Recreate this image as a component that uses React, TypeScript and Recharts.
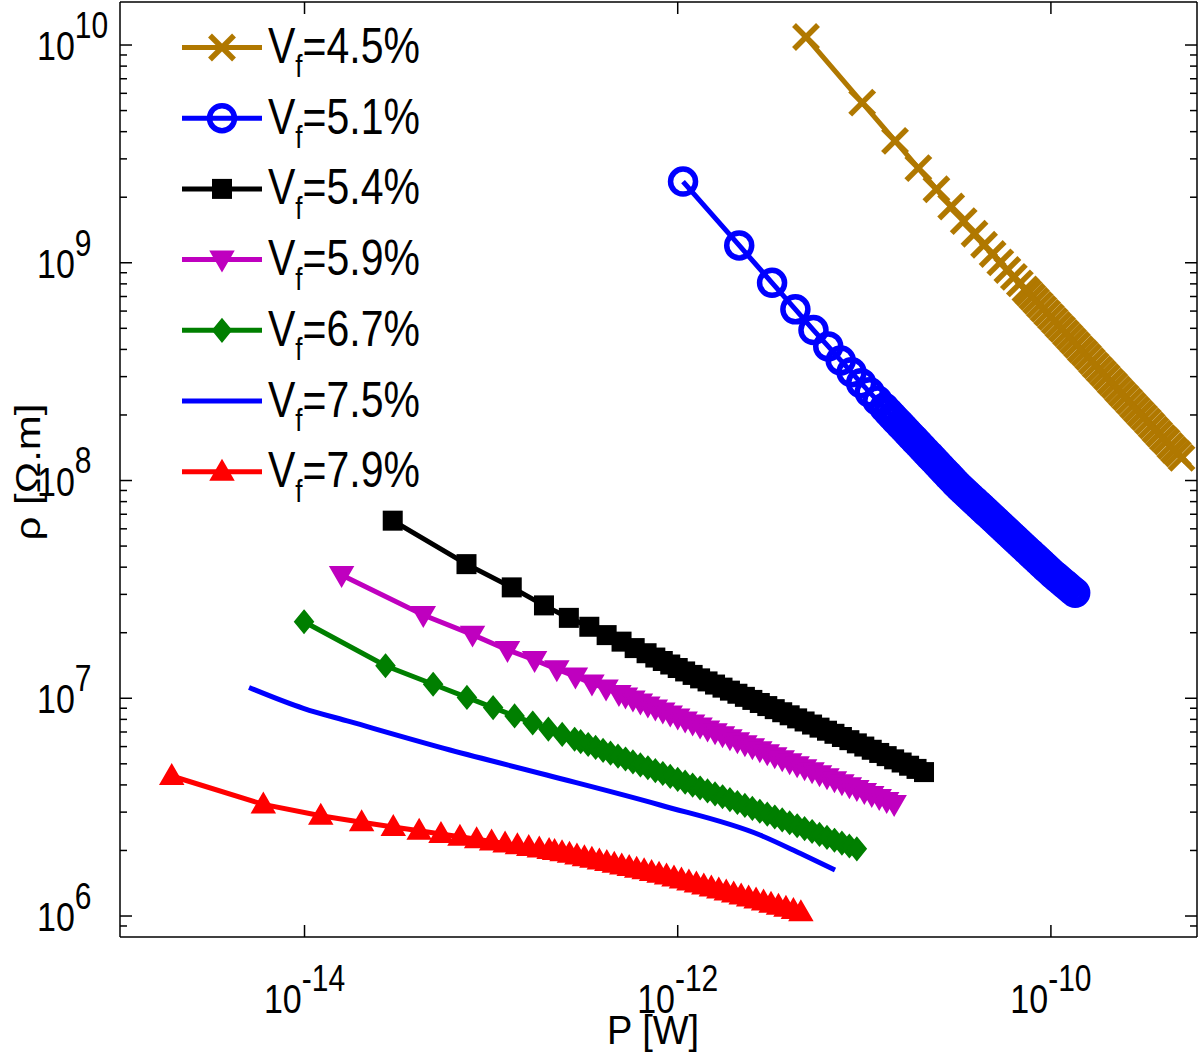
import React from 'react';
import { LineChart, Line, XAxis, YAxis, Legend, ReferenceLine } from 'recharts';

// power P [W] and resistivity rho [Ohm.m]
const p45 = [4.87e-12, 9.74e-12, 1.461e-11, 1.948e-11, 2.435e-11, 2.922e-11, 3.409e-11, 3.896e-11, 4.383e-11, 4.87e-11, 5.357e-11, 5.844e-11, 6.331e-11, 6.818e-11, 7.305e-11,
  7.586e-11, 7.943e-11, 8.318e-11, 8.71e-11, 9.12e-11, 9.55e-11, 1.0e-10, 1.047e-10, 1.096e-10, 1.148e-10, 1.202e-10, 1.259e-10, 1.318e-10, 1.38e-10, 1.445e-10, 1.514e-10, 1.585e-10, 1.66e-10, 1.738e-10, 1.82e-10, 1.905e-10, 1.995e-10, 2.089e-10, 2.188e-10, 2.291e-10, 2.399e-10, 2.512e-10, 2.63e-10, 2.754e-10, 2.884e-10, 3.02e-10, 3.162e-10, 3.311e-10, 3.467e-10, 3.631e-10, 3.802e-10, 3.981e-10, 4.169e-10, 4.365e-10, 4.571e-10, 4.786e-10, 5.012e-10];
const rho45 = [1.088e10, 5.44e9, 3.627e9, 2.72e9, 2.176e9, 1.813e9, 1.554e9, 1.36e9, 1.209e9, 1.097e9, 1.004e9, 9.27e8, 8.61e8, 8.04e8, 7.54e8,
  7.28e8, 6.98e8, 6.69e8, 6.41e8, 6.14e8, 5.89e8, 5.64e8, 5.41e8, 5.18e8, 4.97e8, 4.76e8, 4.56e8, 4.37e8, 4.19e8, 4.01e8, 3.85e8, 3.69e8, 3.53e8, 3.38e8, 3.24e8, 3.11e8, 2.98e8, 2.85e8, 2.74e8, 2.62e8, 2.51e8, 2.41e8, 2.31e8, 2.21e8, 2.12e8, 2.03e8, 1.95e8, 1.87e8, 1.79e8, 1.71e8, 1.64e8, 1.57e8, 1.51e8, 1.44e8, 1.38e8, 1.33e8, 1.27e8];

const p51 = [1.068e-12, 2.136e-12, 3.204e-12, 4.272e-12, 5.34e-12, 6.408e-12, 7.476e-12, 8.544e-12, 9.612e-12, 1.068e-11, 1.175e-11, 1.282e-11,
  1.349e-11, 1.413e-11, 1.479e-11, 1.549e-11, 1.622e-11, 1.698e-11, 1.778e-11, 1.862e-11, 1.95e-11, 2.042e-11, 2.138e-11, 2.239e-11, 2.344e-11, 2.455e-11, 2.57e-11, 2.692e-11, 2.818e-11, 2.951e-11, 3.09e-11, 3.236e-11, 3.388e-11, 3.548e-11, 3.715e-11, 3.89e-11, 4.074e-11, 4.266e-11, 4.467e-11, 4.677e-11, 4.898e-11, 5.129e-11, 5.37e-11, 5.623e-11, 5.888e-11, 6.166e-11, 6.457e-11, 6.761e-11, 7.079e-11, 7.413e-11, 7.762e-11, 8.128e-11, 8.511e-11, 8.913e-11, 9.333e-11, 9.772e-11, 1.023e-10, 1.072e-10, 1.122e-10, 1.175e-10, 1.23e-10, 1.288e-10, 1.349e-10];
const rho51 = [2.361e9, 1.201e9, 8.09e8, 6.11e8, 4.91e8, 4.13e8, 3.56e8, 3.14e8, 2.8e8, 2.54e8, 2.33e8, 2.16e8,
  2.058e8, 1.973e8, 1.893e8, 1.816e8, 1.742e8, 1.671e8, 1.602e8, 1.537e8, 1.474e8, 1.414e8, 1.356e8, 1.301e8, 1.248e8, 1.197e8, 1.148e8, 1.101e8, 1.056e8, 1.013e8, 9.717e7, 9.342e7, 9.004e7, 8.678e7, 8.364e7, 8.061e7, 7.769e7, 7.489e7, 7.218e7, 6.957e7, 6.706e7, 6.463e7, 6.229e7, 6.004e7, 5.786e7, 5.577e7, 5.375e7, 5.181e7, 4.994e7, 4.813e7, 4.639e7, 4.471e7, 4.31e7, 4.154e7, 4.003e7, 3.858e7, 3.722e7, 3.601e7, 3.483e7, 3.37e7, 3.26e7, 3.153e7, 3.051e7];

const p54 = [2.97e-14, 7.38e-14, 1.29e-13, 1.92e-13, 2.61e-13, 3.36e-13, 4.16e-13, 5.0e-13, 5.88e-13, 6.81e-13,
  7.586e-13, 8.318e-13, 9.12e-13, 1.0e-12, 1.096e-12, 1.202e-12, 1.318e-12, 1.445e-12, 1.585e-12, 1.738e-12, 1.905e-12, 2.089e-12, 2.291e-12, 2.512e-12, 2.754e-12, 3.02e-12, 3.311e-12, 3.631e-12, 3.981e-12, 4.365e-12, 4.786e-12, 5.248e-12, 5.754e-12, 6.31e-12, 6.918e-12, 7.586e-12, 8.318e-12, 9.12e-12, 1.0e-11, 1.096e-11, 1.202e-11, 1.318e-11, 1.445e-11, 1.585e-11, 1.738e-11, 1.905e-11, 2.089e-11];
const rho54 = [6.54e7, 4.13e7, 3.23e7, 2.67e7, 2.34e7, 2.13e7, 1.95e7, 1.82e7, 1.7e7, 1.61e7,
  1.538e7, 1.483e7, 1.429e7, 1.377e7, 1.328e7, 1.28e7, 1.234e7, 1.195e7, 1.156e7, 1.119e7, 1.084e7, 1.049e7, 1.015e7, 9.827e6, 9.513e6, 9.207e6, 8.913e6, 8.626e6, 8.351e6, 8.084e6, 7.824e6, 7.574e6, 7.33e6, 7.096e6, 6.868e6, 6.639e6, 6.42e6, 6.206e6, 6.001e6, 5.801e6, 5.609e6, 5.423e6, 5.242e6, 5.069e6, 4.9e6, 4.738e6, 4.581e6];

const p59 = [1.58e-14, 4.33e-14, 7.95e-14, 1.224e-13, 1.71e-13, 2.25e-13, 2.83e-13, 3.47e-13, 4.13e-13, 4.84e-13,
  5.248e-13, 5.754e-13, 6.31e-13, 6.918e-13, 7.586e-13, 8.318e-13, 9.12e-13, 1.0e-12, 1.096e-12, 1.202e-12, 1.318e-12, 1.445e-12, 1.585e-12, 1.738e-12, 1.905e-12, 2.089e-12, 2.291e-12, 2.512e-12, 2.754e-12, 3.02e-12, 3.311e-12, 3.631e-12, 3.981e-12, 4.365e-12, 4.786e-12, 5.248e-12, 5.754e-12, 6.31e-12, 6.918e-12, 7.586e-12, 8.318e-12, 9.12e-12, 1.0e-11, 1.096e-11, 1.202e-11, 1.318e-11, 1.445e-11];
const rho59 = [3.68e7, 2.41e7, 1.96e7, 1.667e7, 1.5e7, 1.36e7, 1.26e7, 1.17e7, 1.11e7, 1.047e7,
  1.018e7, 9.87e6, 9.563e6, 9.265e6, 8.977e6, 8.698e6, 8.428e6, 8.166e6, 7.91e6, 7.665e6, 7.427e6, 7.196e6, 6.973e6, 6.755e6, 6.546e6, 6.342e6, 6.145e6, 5.954e6, 5.767e6, 5.588e6, 5.415e6, 5.247e6, 5.085e6, 4.925e6, 4.772e6, 4.624e6, 4.481e6, 4.341e6, 4.206e6, 4.075e6, 3.948e6, 3.826e6, 3.707e6, 3.591e6, 3.479e6, 3.371e6, 3.267e6];

const p67 = [9.94e-15, 2.716e-14, 4.888e-14, 7.42e-14, 1.025e-13, 1.336e-13, 1.67e-13, 2.027e-13, 2.404e-13, 2.801e-13,
  3.02e-13, 3.311e-13, 3.631e-13, 3.981e-13, 4.365e-13, 4.786e-13, 5.248e-13, 5.754e-13, 6.31e-13, 6.918e-13, 7.586e-13, 8.318e-13, 9.12e-13, 1.0e-12, 1.096e-12, 1.202e-12, 1.318e-12, 1.445e-12, 1.585e-12, 1.738e-12, 1.905e-12, 2.089e-12, 2.291e-12, 2.512e-12, 2.754e-12, 3.02e-12, 3.311e-12, 3.631e-12, 3.981e-12, 4.365e-12, 4.786e-12, 5.248e-12, 5.754e-12, 6.31e-12, 6.918e-12, 7.586e-12, 8.318e-12, 9.12e-12];
const rho67 = [2.247e7, 1.411e7, 1.16e7, 1.009e7, 9.062e6, 8.297e6, 7.702e6, 7.221e6, 6.824e6, 6.484e6,
  6.325e6, 6.134e6, 5.949e6, 5.767e6, 5.594e6, 5.425e6, 5.261e6, 5.103e6, 4.948e6, 4.798e6, 4.654e6, 4.514e6, 4.377e6, 4.245e6, 4.117e6, 3.992e6, 3.872e6, 3.755e6, 3.641e6, 3.531e6, 3.424e6, 3.321e6, 3.221e6, 3.123e6, 3.029e6, 2.938e6, 2.849e6, 2.763e6, 2.68e6, 2.598e6, 2.52e6, 2.444e6, 2.37e6, 2.298e6, 2.229e6, 2.162e6, 2.096e6, 2.034e6];

const p75 = [5.042e-15, 9.854e-15, 1.753e-14, 6.022e-14, 1.986e-13, 8.039e-13, 2.761e-12, 4.523e-12, 6.966e-12];
const rho75 = [1.121e7, 8.992e6, 7.804e6, 5.785e6, 4.442e6, 3.235e6, 2.355e6, 1.941e6, 1.627e6];

const p79 = [1.942e-15, 6.015e-15, 1.222e-14, 2.023e-14, 2.99e-14, 4.115e-14, 5.386e-14, 6.805e-14, 8.362e-14, 1.006e-13, 1.188e-13, 1.383e-13, 1.591e-13, 1.812e-13, 2.045e-13,
  2.188e-13, 2.399e-13, 2.63e-13, 2.884e-13, 3.162e-13, 3.467e-13, 3.802e-13, 4.169e-13, 4.571e-13, 5.012e-13, 5.495e-13, 6.026e-13, 6.607e-13, 7.244e-13, 7.943e-13, 8.71e-13, 9.55e-13, 1.047e-12, 1.148e-12, 1.259e-12, 1.38e-12, 1.514e-12, 1.66e-12, 1.82e-12, 1.995e-12, 2.188e-12, 2.399e-12, 2.63e-12, 2.884e-12, 3.162e-12, 3.467e-12, 3.802e-12, 4.169e-12, 4.571e-12];
const rho79 = [4.395e6, 3.256e6, 2.887e6, 2.694e6, 2.564e6, 2.462e6, 2.379e6, 2.31e6, 2.25e6, 2.198e6, 2.152e6, 2.111e6, 2.073e6, 2.04e6, 2.009e6,
  1.991e6, 1.964e6, 1.93e6, 1.897e6, 1.864e6, 1.832e6, 1.8e6, 1.769e6, 1.738e6, 1.708e6, 1.679e6, 1.65e6, 1.621e6, 1.593e6, 1.565e6, 1.534e6, 1.502e6, 1.47e6, 1.439e6, 1.41e6, 1.38e6, 1.352e6, 1.323e6, 1.296e6, 1.269e6, 1.243e6, 1.217e6, 1.191e6, 1.166e6, 1.14e6, 1.114e6, 1.09e6, 1.066e6, 1.041e6];

const legendLabels = ['=4.5%', '=5.1%', '=5.4%', '=5.9%', '=6.7%', '=7.5%', '=7.9%'];

const xTicks = [1e-14, 1e-12, 1e-10];
const xTickExp = ['-14', '-12', '-10'];
const yMajor = [1e6, 1e7, 1e8, 1e9, 1e10];
const yMajorExp = ['6', '7', '8', '9', '10'];
const yMinor = [9e5, 2e6, 3e6, 4e6, 5e6, 6e6, 7e6, 8e6, 9e6, 2e7, 3e7, 4e7, 5e7, 6e7, 7e7, 8e7, 9e7,
  2e8, 3e8, 4e8, 5e8, 6e8, 7e8, 8e8, 9e8, 2e9, 3e9, 4e9, 5e9, 6e9, 7e9, 8e9, 9e9];

const W = 1200;
const H = 1054;
const PL = 120;
const PR = 1197;
const PT = 2;
const PB = 937;
const X_DOMAIN = [1.026e-15, 6.066e-10];
const Y_DOMAIN = [8.01e5, 1.576e10];
const FONT = '"Liberation Sans", Arial, Helvetica, sans-serif';
const SY = 1.2; // the figure text is stretched vertically

const toPts = (p: number[], r: number[]) => p.map((v, i) => ({ p: v, rho: r[i] }));

const SERIES = [
  { key: 's45', data: toPts(p45, rho45), color: '#B07800', marker: 'x' },
  { key: 's51', data: toPts(p51, rho51), color: '#0000FF', marker: 'o' },
  { key: 's54', data: toPts(p54, rho54), color: '#000000', marker: 's' },
  { key: 's59', data: toPts(p59, rho59), color: '#BF00BF', marker: 'v' },
  { key: 's67', data: toPts(p67, rho67), color: '#007F00', marker: 'd' },
  { key: 's75', data: toPts(p75, rho75), color: '#0000FF', marker: 'none' },
  { key: 's79', data: toPts(p79, rho79), color: '#FF0000', marker: '^' },
];

const Mark = ({ kind, cx, cy, color }: { kind: string; cx: number; cy: number; color: string }) => {
  if (cx == null || cy == null) return null;
  switch (kind) {
    case 'x':
      return (
        <g stroke={color} strokeWidth={5.5}>
          <line x1={cx - 12} y1={cy - 12} x2={cx + 12} y2={cy + 12} />
          <line x1={cx - 12} y1={cy + 12} x2={cx + 12} y2={cy - 12} />
        </g>
      );
    case 'o':
      return <circle cx={cx} cy={cy} r={12.5} fill="none" stroke={color} strokeWidth={5.5} />;
    case 's':
      return <rect x={cx - 9} y={cy - 9} width={18} height={18} fill={color} stroke={color} strokeWidth={2} />;
    case 'v':
      return <polygon points={`${cx - 11},${cy - 8} ${cx + 11},${cy - 8} ${cx},${cy + 11}`} fill={color} stroke={color} strokeWidth={2} />;
    case '^':
      return <polygon points={`${cx - 11},${cy + 8} ${cx + 11},${cy + 8} ${cx},${cy - 11}`} fill={color} stroke={color} strokeWidth={2} />;
    case 'd':
      return <polygon points={`${cx},${cy - 11} ${cx + 9},${cy} ${cx},${cy + 11} ${cx - 9},${cy}`} fill={color} stroke={color} strokeWidth={2} />;
    default:
      return null;
  }
};

const XTick = (props: any) => {
  const { x, payload } = props;
  const i = xTicks.indexOf(payload.value);
  return (
    <g>
      <line x1={x} x2={x} y1={PB} y2={PB - 12} stroke="#000" strokeWidth={1.5} />
      <line x1={x} x2={x} y1={PT} y2={PT + 12} stroke="#000" strokeWidth={1.5} />
      <g transform={`translate(${x}, 1013) scale(1, ${SY})`}>
        <text x={0} y={0} textAnchor="middle" fontSize={34} fontFamily={FONT} fill="#000">
          10<tspan dy={-18} fontSize={30}>{xTickExp[i]}</tspan>
        </text>
      </g>
    </g>
  );
};

const YTick = (props: any) => {
  const { y, payload } = props;
  const i = yMajor.indexOf(payload.value);
  const len = i >= 0 ? 12 : 7;
  return (
    <g>
      <line x1={PL} x2={PL + len} y1={y} y2={y} stroke="#000" strokeWidth={1.5} />
      <line x1={PR - len} x2={PR} y1={y} y2={y} stroke="#000" strokeWidth={1.5} />
      {i >= 0 && (
        <g transform={`translate(37, ${y + 15}) scale(1, ${SY})`}>
          <text x={0} y={0} fontSize={34} fontFamily={FONT} fill="#000">
            10<tspan dy={-18.5} fontSize={30}>{yMajorExp[i]}</tspan>
          </text>
        </g>
      )}
    </g>
  );
};

const LegendBox = () => (
  <svg width={460} height={510} style={{ display: 'block', overflow: 'visible' }}>
    {SERIES.map((s, i) => {
      const y = 47.5 + i * 70.7;
      return (
        <g key={s.key}>
          <line x1={182} x2={262} y1={y} y2={y} stroke={s.color} strokeWidth={5} />
          <Mark kind={s.marker} cx={222} cy={y} color={s.color} />
          <g transform={`translate(268, ${y + 15.5}) scale(1, ${SY})`}>
            <text x={0} y={0} fontSize={41} fontFamily={FONT} fill="#000">
              V<tspan dy={12} fontSize={26}>f</tspan>
              <tspan dy={-12} fontSize={41}>{legendLabels[i]}</tspan>
            </text>
          </g>
        </g>
      );
    })}
  </svg>
);

export default function App() {
  const allYTicks = [...yMajor, ...yMinor].sort((a, b) => a - b);
  return (
    <div style={{ position: 'absolute', left: 0, top: 0, width: W, height: H, background: '#fff' }}>
      <LineChart width={W} height={H} margin={{ top: PT, right: W - PR, bottom: 0, left: 0 }}>
        <XAxis
          dataKey="p"
          type="number"
          scale="log"
          domain={X_DOMAIN}
          allowDataOverflow
          ticks={xTicks}
          interval={0}
          height={H - PB}
          axisLine={{ stroke: '#000', strokeWidth: 1.5 }}
          tickLine={false}
          tick={<XTick />}
        />
        <YAxis
          dataKey="rho"
          type="number"
          scale="log"
          domain={Y_DOMAIN}
          allowDataOverflow
          ticks={allYTicks}
          interval={0}
          width={PL}
          axisLine={{ stroke: '#000', strokeWidth: 1.5 }}
          tickLine={false}
          tick={<YTick />}
        />
        <ReferenceLine y={Y_DOMAIN[1]} stroke="#000" strokeWidth={1.5} ifOverflow="visible" />
        <ReferenceLine x={X_DOMAIN[1]} stroke="#000" strokeWidth={1.5} ifOverflow="visible" />
        {SERIES.map((s) => (
          <Line
            key={s.key}
            data={s.data}
            dataKey="rho"
            type={s.marker === 'none' ? 'monotone' : 'linear'}
            stroke={s.color}
            strokeWidth={5}
            isAnimationActive={false}
            activeDot={false}
            dot={s.marker === 'none' ? false : (d: any) => (
              <Mark key={`${s.key}-${d.index}`} kind={s.marker} cx={d.cx} cy={d.cy} color={s.color} />
            )}
          />
        ))}
        <Legend
          layout="horizontal"
          verticalAlign="middle"
          align="center"
          content={() => <LegendBox />}
          wrapperStyle={{ left: 0, top: 0, width: 460, height: 510 }}
        />
      </LineChart>
      <svg width={W} height={H} style={{ position: 'absolute', left: 0, top: 0, pointerEvents: 'none' }}>
        <g transform={`translate(653, 1044) scale(1, 1.05)`}>
          <text x={0} y={0} textAnchor="middle" fontSize={38} fontFamily={FONT} fill="#000">P [W]</text>
        </g>
        <g transform={`translate(40, 472) rotate(-90) scale(${SY}, 1)`}>
          <text x={0} y={0} textAnchor="middle" fontSize={35} fontFamily={FONT} fill="#000">ρ [Ω.m]</text>
        </g>
      </svg>
    </div>
  );
}
